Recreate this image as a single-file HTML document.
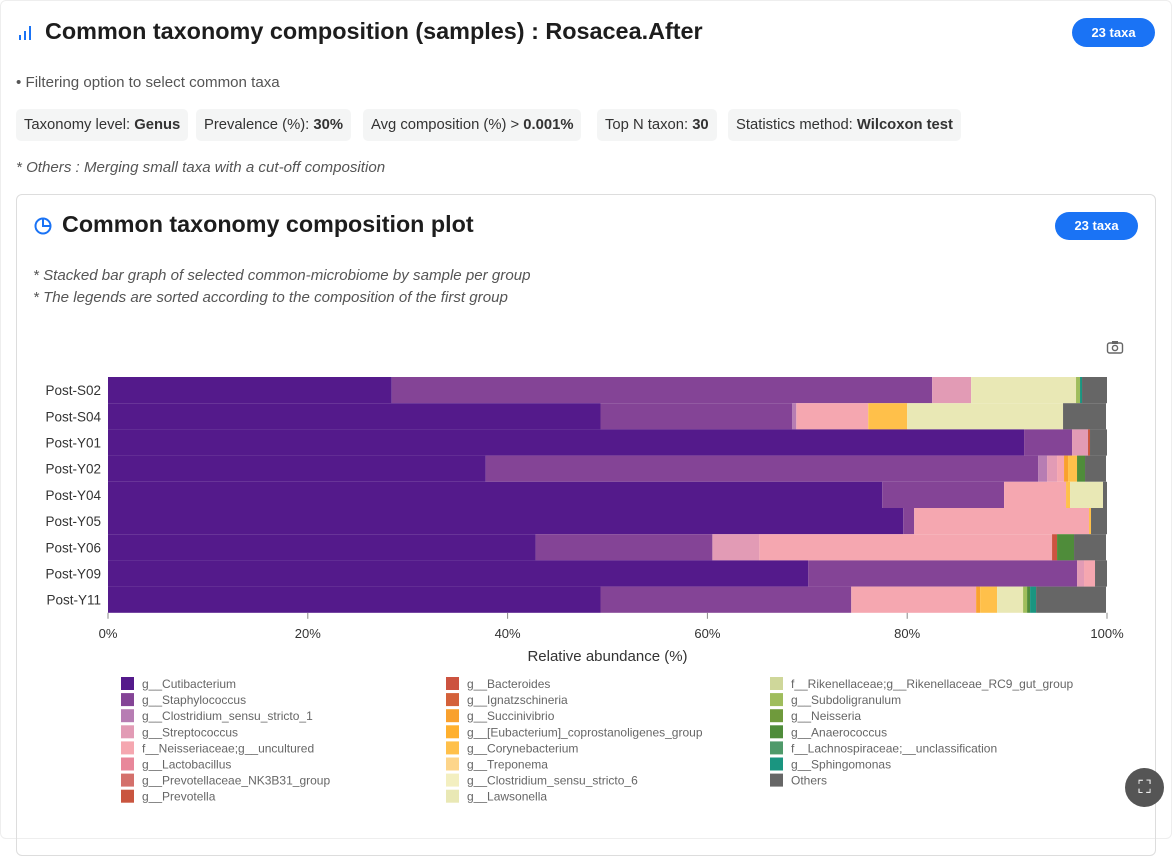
<!DOCTYPE html>
<html><head><meta charset="utf-8"><style>
body{margin:0;background:#fff;font-family:"Liberation Sans",sans-serif;color:#222;width:1172px;height:839px;overflow:hidden;position:relative}
.abs{position:absolute}
.chip{position:absolute;top:109px;height:32px;line-height:32px;background:#f4f5f5;border-radius:5px;padding:0 8px;font-size:14.8px;color:#333;white-space:nowrap}
.badge{position:absolute;background:#1a73f5;color:#fff;font-weight:bold;font-size:13px;border-radius:15px;text-align:center}
.note{position:absolute;font-style:italic;font-size:15.1px;color:#555}
</style></head><body>
<div class="abs" style="left:0;top:0;width:1170px;height:837px;border:1px solid #eee;border-radius:6px"></div>
<svg class="abs" style="left:17px;top:25px" width="18" height="16"><rect x="2" y="10" width="2" height="5" fill="#1a73f5"/><rect x="7" y="6" width="2" height="9" fill="#1a73f5"/><rect x="12" y="1" width="2" height="14" fill="#1a73f5"/></svg>
<div class="abs" style="left:45px;top:18px;font-size:23.4px;font-weight:bold;color:#1d1d1d">Common taxonomy composition (samples) : Rosacea.After</div>
<div class="badge" style="left:1072px;top:18px;width:83px;height:29px;line-height:29px">23 taxa</div>
<div class="abs" style="left:16px;top:74px;font-size:15.1px;color:#555">• Filtering option to select common taxa</div>
<div class="chip" style="left:16px">Taxonomy level: <b>Genus</b></div>
<div class="chip" style="left:196px">Prevalence (%): <b>30%</b></div>
<div class="chip" style="left:363px">Avg composition (%) &gt; <b>0.001%</b></div>
<div class="chip" style="left:597px">Top N taxon: <b>30</b></div>
<div class="chip" style="left:728px">Statistics method: <b>Wilcoxon test</b></div>
<div class="note" style="left:16px;top:159px">* Others : Merging small taxa with a cut-off composition</div>
<div class="abs" style="left:16px;top:194px;width:1138px;height:660px;border:1px solid #ddd;border-radius:6px"></div>
<svg class="abs" style="left:33px;top:216px" width="20" height="20"><circle cx="10" cy="10" r="7.5" fill="none" stroke="#1a73f5" stroke-width="2"/><path d="M10 2.5V10H17.5" fill="none" stroke="#1a73f5" stroke-width="2"/></svg>
<div class="abs" style="left:62px;top:211px;font-size:23.3px;font-weight:bold;color:#1d1d1d">Common taxonomy composition plot</div>
<div class="badge" style="left:1055px;top:212px;width:83px;height:28px;line-height:28px">23 taxa</div>
<div class="note" style="left:33px;top:267px">* Stacked bar graph of selected common-microbiome by sample per group</div>
<div class="note" style="left:33px;top:289px">* The legends are sorted according to the composition of the first group</div>
<svg class="abs" style="left:1106px;top:339px" width="18" height="16"><rect x="1.5" y="4" width="15" height="10" rx="2" fill="none" stroke="#666" stroke-width="1.4"/><rect x="6" y="2" width="6" height="3" fill="#666"/><circle cx="9" cy="9" r="2.6" fill="none" stroke="#666" stroke-width="1.4"/></svg>
<svg id="chart" class="abs" style="left:0;top:0" width="1172" height="839"></svg>
<div class="abs" style="left:1125px;top:768px;width:39px;height:39px;border-radius:50%;background:#555;color:#fff;text-align:center;line-height:39px;font-size:18px">⛶</div>
<script>
const samples=["Post-S02","Post-S04","Post-Y01","Post-Y02","Post-Y04","Post-Y05","Post-Y06","Post-Y09","Post-Y11"];
const taxa=["g__Cutibacterium","g__Staphylococcus","g__Clostridium_sensu_stricto_1","g__Streptococcus","f__Neisseriaceae;g__uncultured","g__Lactobacillus","g__Prevotellaceae_NK3B31_group","g__Prevotella","g__Bacteroides","g__Ignatzschineria","g__Succinivibrio","g__[Eubacterium]_coprostanoligenes_group","g__Corynebacterium","g__Treponema","g__Clostridium_sensu_stricto_6","g__Lawsonella","f__Rikenellaceae;g__Rikenellaceae_RC9_gut_group","g__Subdoligranulum","g__Neisseria","g__Anaerococcus","f__Lachnospiraceae;__unclassification","g__Sphingomonas","Others"];
const colors=["#541a8b","#844496","#b77db3","#e29bb5","#f5a7b0","#e8879a","#d4706b","#c9553f","#cc5340","#d4613a","#f9a12e","#ffb02e","#ffc04a","#fdd58a","#f3efc0","#e9e8b5","#cfd79a","#9fbd5c","#6f9a3c","#4f8c3a","#4f9a6a","#1a9580","#666666"];
const vCuti=[28.4,49.3,91.7,37.8,77.5,79.6,42.8,70.1,49.3];
const vStaph=[54.1,19.2,4.8,55.3,12.2,1.1,17.7,26.9,25.1];
const vClost1=[0,0.4,0,0.9,0,0,0,0,0];
const vStrep=[3.9,0,1.6,1.0,0,0,4.7,0.7,0];
const vNeisserU=[0,7.2,0,0.7,6.2,17.5,29.3,1.1,12.5];
const vZero=[0,0,0,0,0,0,0,0,0];
const vPrevotella=[0,0,0.2,0,0,0,0,0,0];
const vBacteroides=[0,0,0,0,0,0,0.5,0,0];
const vSuccin=[0,0,0,0.4,0,0,0,0,0.4];
const vCoryne=[0,3.9,0,0.9,0.4,0.2,0,0,1.7];
const vLawson=[10.5,15.6,0,0,3.3,0,0,0,2.6];
const vSubdol=[0.4,0,0,0,0,0,0,0,0.4];
const vAnaero=[0,0,0,0.8,0,0,1.7,0,0.3];
const vSphingo=[0.2,0,0,0,0,0,0,0,0.6];
const vOthers=[2.5,4.3,1.7,2.1,0.4,1.6,3.2,1.2,7.0];
const values=[vCuti,vStaph,vClost1,vStrep,vNeisserU,vZero,vZero,vPrevotella,vBacteroides,vZero,vSuccin,vZero,vCoryne,vZero,vZero,vLawson,vZero,vSubdol,vZero,vAnaero,vZero,vSphingo,vOthers];
const xTicks=[0,20,40,60,80,100];
const NS="http://www.w3.org/2000/svg";
const svg=document.getElementById('chart');
const X0=108,X1=1107,Y0=377,RH=26.2;
const xs=v=>X0+(X1-X0)*v/100;
const ys=i=>Y0+i*RH;
function el(t,a){const e=document.createElementNS(NS,t);for(const k in a)e.setAttribute(k,a[k]);svg.appendChild(e);return e;}
samples.forEach((s,i)=>{
  let cum=0;
  values.forEach((arr,t)=>{
    const v=arr[i];if(!v)return;
    const r=el('rect',{x:xs(cum),y:ys(i),width:xs(cum+v)-xs(cum),height:RH,fill:colors[t]});
    
    
    cum+=v;
  });
  const l=el('text',{x:X0-7,y:ys(i)+RH/2+5,'text-anchor':'end','font-size':13.5,fill:'#333','font-family':'Liberation Sans'});
  l.textContent=s;
  
  
});
xTicks.forEach(t=>{
  const tk=el('line',{x1:xs(t),x2:xs(t),y1:Y0+9*RH,y2:Y0+9*RH+6,stroke:'#888'});
  
  
  const tx=el('text',{x:xs(t),y:638,'text-anchor':'middle','font-size':13,fill:'#333','font-family':'Liberation Sans'});
  tx.textContent=t+'%';
  
  
});
const at=el('text',{x:(X0+X1)/2,y:661,'text-anchor':'middle','font-size':15,fill:'#333','font-family':'Liberation Sans'});
at.textContent='Relative abundance (%)';


taxa.forEach((n,t)=>{
  const col=Math.floor(t/8),row=t%8;
  const x=[121,446,770][col],y=677+row*16.1;
  const r=el('rect',{x:x,y:y,width:13,height:13,fill:colors[t]});
  
  
  const tx=el('text',{x:x+21,y:y+11,'font-size':12,fill:'#666','font-family':'Liberation Sans'});
  tx.textContent=n;
  
  
});
</script>
</body></html>
